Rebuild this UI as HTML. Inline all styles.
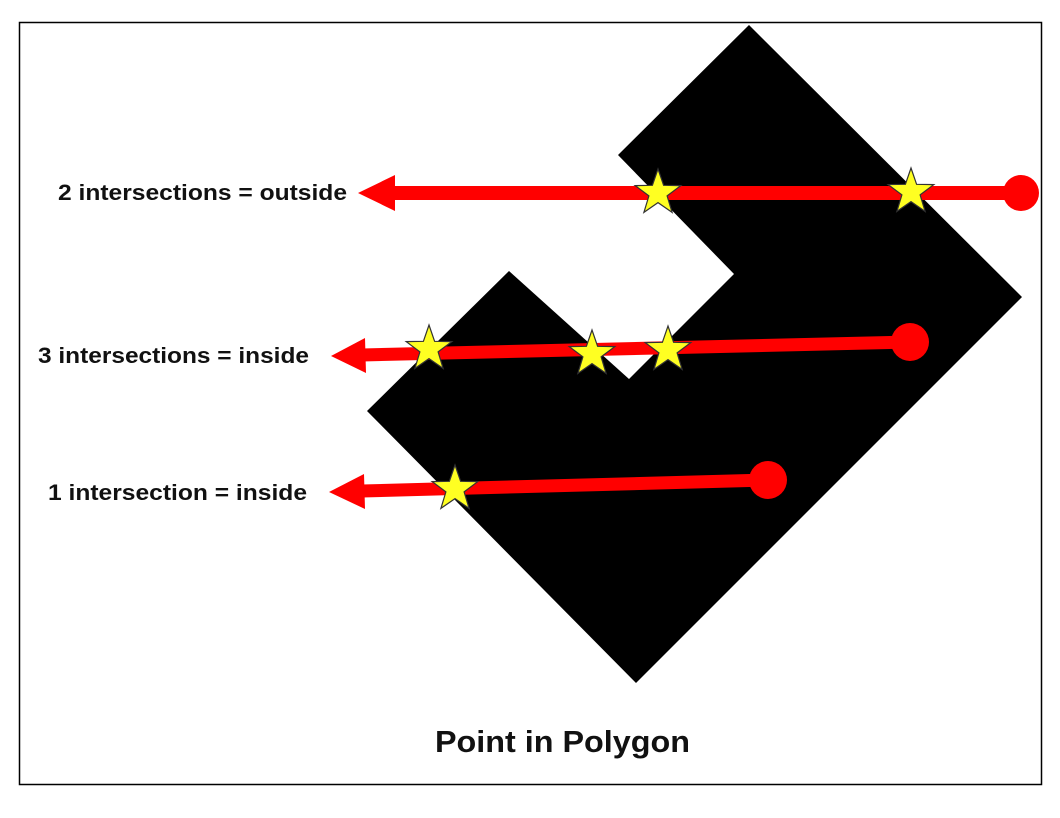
<!DOCTYPE html>
<html><head><style>
body{margin:0;background:#fff;}
</style></head><body>
<svg width="1060" height="818" xmlns="http://www.w3.org/2000/svg" style="display:block">
<defs>
<polygon id="st" points="0,-24 5.6,-7.7 22.8,-7.4 9.1,2.9 14.1,19.4 0,9.6 -14.1,19.4 -9.1,2.9 -22.8,-7.4 -5.6,-7.7" fill="#ffff22" stroke="#333" stroke-width="1.2"/>
</defs>
<rect x="19.5" y="22.5" width="1022" height="762" fill="#fff" stroke="#000" stroke-width="1.5"/>
<polygon points="749,25 1022,297 636,683 367,411 509,271 629,379 734,274 618,155" fill="#000"/>
<g fill="#f00" stroke="none">
<line x1="392" y1="193" x2="1020" y2="193" stroke="#f00" stroke-width="14"/>
<polygon points="358,193 395,175 395,211"/>
<circle cx="1021" cy="193" r="18"/>
<line x1="362" y1="355" x2="910" y2="342" stroke="#f00" stroke-width="13"/>
<polygon points="331,356 365,338 366,373"/>
<circle cx="910" cy="342" r="19"/>
<line x1="362" y1="491" x2="768" y2="480" stroke="#f00" stroke-width="13"/>
<polygon points="329,492 364,474 365,509"/>
<circle cx="768" cy="480" r="19"/>
</g>
<use href="#st" x="658" y="193"/>
<use href="#st" x="911" y="192"/>
<use href="#st" x="429" y="349"/>
<use href="#st" x="592" y="354"/>
<use href="#st" x="668" y="350"/>
<use href="#st" x="455" y="489"/>
<g font-family="Liberation Sans, sans-serif" font-weight="bold" font-size="22" fill="#111">
<text x="58" y="200" textLength="289" lengthAdjust="spacingAndGlyphs">2 intersections = outside</text>
<text x="38" y="363" textLength="271" lengthAdjust="spacingAndGlyphs">3 intersections = inside</text>
<text x="48" y="500" textLength="259" lengthAdjust="spacingAndGlyphs">1 intersection = inside</text>
</g>
<text x="435" y="752" font-family="Liberation Sans, sans-serif" font-weight="bold" font-size="31" fill="#111" textLength="255" lengthAdjust="spacingAndGlyphs">Point in Polygon</text>
</svg>
</body></html>
